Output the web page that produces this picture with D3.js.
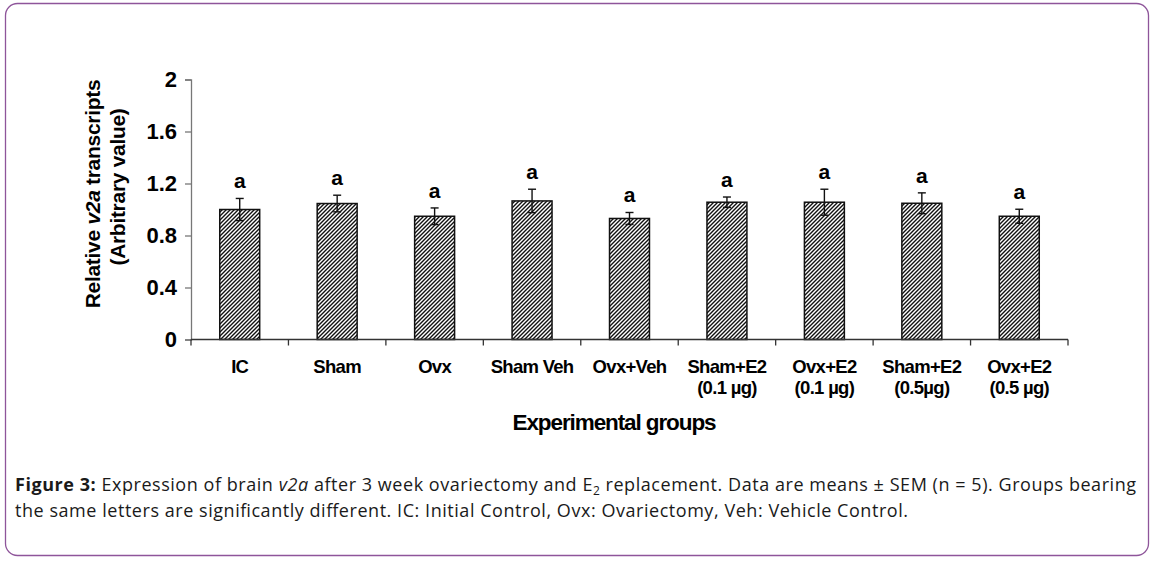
<!DOCTYPE html>
<html>
<head>
<meta charset="utf-8">
<script src="https://cdn.jsdelivr.net/npm/d3@7"></script>
<style>
  body { margin: 0; background: #fff; }
  text { font-family: "Liberation Sans", Arial, sans-serif; }
</style>
</head>
<body>
<div id="chart"></div>
<script>
// data
var groups = ["IC", "Sham", "Ovx", "Sham Veh", "Ovx+Veh", "Sham+E2 (0.1 µg)", "Ovx+E2 (0.1 µg)", "Sham+E2 (0.5µg)", "Ovx+E2 (0.5 µg)"];
var labelLines = [["IC"], ["Sham"], ["Ovx"], ["Sham Veh"], ["Ovx+Veh"], ["Sham+E2", "(0.1 µg)"], ["Ovx+E2", "(0.1 µg)"], ["Sham+E2", "(0.5µg)"], ["Ovx+E2", "(0.5 µg)"]];
var means = [1.00, 1.046, 0.948, 1.066, 0.931, 1.056, 1.056, 1.048, 0.948];
var sem = [0.085, 0.064, 0.064, 0.09, 0.046, 0.04, 0.10, 0.08, 0.054];
var letters = ["a", "a", "a", "a", "a", "a", "a", "a", "a"];
var yTicks = [0, 0.4, 0.8, 1.2, 1.6, 2];

var svgWidth = 1155;
var svgHeight = 561;

var svg = d3.select("#chart")
  .append("svg")
  .attr("width", svgWidth)
  .attr("height", svgHeight);

// hatch pattern for the bars
var pat = svg.append("defs").append("pattern")
  .attr("id", "hatch")
  .attr("patternUnits", "userSpaceOnUse")
  .attr("width", 4)
  .attr("height", 4);
pat.append("rect").attr("width", 4).attr("height", 4).attr("fill", "#fff");
pat.append("path")
  .attr("d", "M-1,1 l2,-2 M0,4 l4,-4 M3,5 l2,-2")
  .attr("stroke", "#111")
  .attr("stroke-width", 1.4);

// rounded frame
svg.append("rect")
  .attr("x", 5.5).attr("y", 3.5)
  .attr("width", 1143).attr("height", 552)
  .attr("rx", 12).attr("ry", 12)
  .attr("fill", "none")
  .attr("stroke", "#8e559a")
  .attr("stroke-width", 1.3);

// scales
var x = d3.scaleBand()
  .domain(groups)
  .range([191, 1068])
  .paddingInner(0.59)
  .paddingOuter(0.295);

var y = d3.scaleLinear()
  .domain([0, 2])
  .range([339.5, 79.5]);

var chartGroup = svg.append("g");

// y axis
var leftAxis = d3.axisLeft(y)
  .tickValues(yTicks)
  .tickSize(6)
  .tickFormat(d => d === 0 ? "0" : d3.format("")(d));

var yAxisG = chartGroup.append("g")
  .attr("transform", "translate(191,0)")
  .call(leftAxis);
yAxisG.select(".domain").attr("stroke", "#777").attr("stroke-width", 1.3);
yAxisG.selectAll(".tick line").attr("stroke", "#777").attr("stroke-width", 1.3);
yAxisG.selectAll(".tick text")
  .attr("x", -14)
  .style("font-size", "22px")
  .style("font-weight", "bold")
  .attr("fill", "#000");

// bars
chartGroup.selectAll(".bar")
  .data(groups)
  .enter()
  .append("rect")
  .attr("class", "bar")
  .attr("x", d => x(d))
  .attr("width", x.bandwidth())
  .attr("y", (d, i) => y(means[i]))
  .attr("height", (d, i) => y(0) - y(means[i]))
  .attr("fill", "url(#hatch)")
  .attr("stroke", "#111")
  .attr("stroke-width", 1.5);

// error bars
var errG = chartGroup.selectAll(".err")
  .data(groups)
  .enter()
  .append("g")
  .attr("class", "err")
  .attr("stroke", "#111")
  .attr("stroke-width", 1.4);
errG.append("line")
  .attr("x1", d => x(d) + x.bandwidth() / 2)
  .attr("x2", d => x(d) + x.bandwidth() / 2)
  .attr("y1", (d, i) => y(means[i] - sem[i]))
  .attr("y2", (d, i) => y(means[i] + sem[i]));
errG.append("line")
  .attr("x1", d => x(d) + x.bandwidth() / 2 - 4)
  .attr("x2", d => x(d) + x.bandwidth() / 2 + 4)
  .attr("y1", (d, i) => y(means[i] + sem[i]))
  .attr("y2", (d, i) => y(means[i] + sem[i]));
errG.append("line")
  .attr("x1", d => x(d) + x.bandwidth() / 2 - 4)
  .attr("x2", d => x(d) + x.bandwidth() / 2 + 4)
  .attr("y1", (d, i) => y(means[i] - sem[i]))
  .attr("y2", (d, i) => y(means[i] - sem[i]));

// significance letters
chartGroup.selectAll(".letter")
  .data(groups)
  .enter()
  .append("text")
  .attr("class", "letter")
  .attr("x", d => x(d) + x.bandwidth() / 2)
  .attr("y", (d, i) => y(means[i] + sem[i]) - 10)
  .attr("text-anchor", "middle")
  .style("font-size", "21px")
  .style("font-weight", "bold")
  .text((d, i) => letters[i]);

// x axis line + ticks at category boundaries
var x0 = x.range()[0], x1 = x.range()[1];
chartGroup.append("line")
  .attr("x1", x0).attr("x2", x1)
  .attr("y1", y(0)).attr("y2", y(0))
  .attr("stroke", "#333").attr("stroke-width", 1.5);
var bounds = d3.range(groups.length + 1).map(i => x0 + i * x.step());
chartGroup.selectAll(".xtick")
  .data(bounds)
  .enter()
  .append("line")
  .attr("x1", d => d).attr("x2", d => d)
  .attr("y1", y(0)).attr("y2", y(0) + 6)
  .attr("stroke", "#333").attr("stroke-width", 1.3);

// category labels
var lab = chartGroup.selectAll(".xlab")
  .data(groups)
  .enter()
  .append("text")
  .attr("class", "xlab")
  .attr("text-anchor", "middle")
  .style("font-size", "18.5px")
  .style("font-weight", "bold")
  .style("letter-spacing", "-0.7px");
lab.selectAll("tspan")
  .data((d, i) => labelLines[i].map(t => ({ t: t, cx: x(d) + x.bandwidth() / 2 })))
  .enter()
  .append("tspan")
  .attr("x", d => d.cx)
  .attr("y", (d, j) => 373 + j * 21)
  .text(d => d.t);

// axis titles
chartGroup.append("text")
  .attr("transform", "translate(614,430)")
  .attr("text-anchor", "middle")
  .style("font-size", "22.5px")
  .style("font-weight", "bold")
  .style("letter-spacing", "-1.1px")
  .text("Experimental groups");

var yl1 = chartGroup.append("text")
  .attr("transform", "translate(100,194) rotate(-90)")
  .attr("text-anchor", "middle")
  .style("font-size", "21px")
  .style("font-weight", "bold")
  .style("letter-spacing", "-0.3px");
yl1.append("tspan").text("Relative ");
yl1.append("tspan").style("font-style", "italic").text("v2a");
yl1.append("tspan").text(" transcripts");

chartGroup.append("text")
  .attr("transform", "translate(125,187) rotate(-90)")
  .attr("text-anchor", "middle")
  .style("font-size", "21px")
  .style("font-weight", "bold")
  .style("letter-spacing", "-0.3px")
  .text("(Arbitrary value)");

// caption
var cap = svg.append("g")
  .style("font-size", "18px")
  .attr("fill", "#1a1a1a");
var c1 = cap.append("text")
  .attr("x", 15).attr("y", 491)
  .attr("textLength", 1121)
  .attr("lengthAdjust", "spacing")
  .style("font-family", "'Open Sans', sans-serif");
c1.append("tspan").style("font-weight", "bold").text("Figure 3:");
c1.append("tspan").text(" Expression of brain ");
c1.append("tspan").style("font-style", "italic").text("v2a");
c1.append("tspan").text(" after 3 week ovariectomy and E");
c1.append("tspan").attr("dy", 4).style("font-size", "12px").text("2");
c1.append("tspan").attr("dy", -4).text(" replacement. Data are means ± SEM (n = 5). Groups bearing");

cap.append("text")
  .attr("x", 15).attr("y", 517)
  .attr("textLength", 893)
  .attr("lengthAdjust", "spacing")
  .style("font-family", "'Open Sans', sans-serif")
  .text("the same letters are significantly different. IC: Initial Control, Ovx: Ovariectomy, Veh: Vehicle Control.");
</script>
</body>
</html>
